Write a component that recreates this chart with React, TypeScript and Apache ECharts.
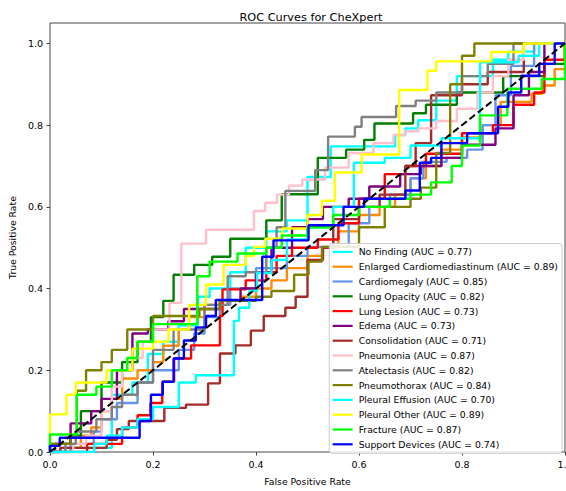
import React, { useEffect, useRef } from "react";
import * as echarts from "echarts";

const xTicks = [0, 0.2, 0.4, 0.6, 0.8, 1.0];
const yTicks = [0, 0.2, 0.4, 0.6, 0.8, 1.0];

const labels = [
  "No Finding",
  "Enlarged Cardiomediastinum",
  "Cardiomegaly",
  "Lung Opacity",
  "Lung Lesion",
  "Edema",
  "Consolidation",
  "Pneumonia",
  "Atelectasis",
  "Pneumothorax",
  "Pleural Effusion",
  "Pleural Other",
  "Fracture",
  "Support Devices",
];
const aucs = [0.77, 0.89, 0.85, 0.82, 0.73, 0.73, 0.71, 0.87, 0.82, 0.84, 0.7, 0.89, 0.87, 0.74];
const colors = [
  "#00ffff", "#ff8c00", "#6495ed", "#008000", "#ff0000", "#800080", "#a52a2a",
  "#ffc0cb", "#808080", "#808000", "#00ffff", "#ffff00", "#00ff00", "#0000ff",
];

// each point: [fpr at which the curve jumps, tpr after the jump]
const noFinding = [[0,0],[0.03,0.01],[0.12,0.14],[0.16,0.17],[0.19,0.24],[0.22,0.27],[0.25,0.31],[0.287,0.38],[0.31,0.4],[0.35,0.44],[0.38,0.5],[0.42,0.54],[0.46,0.567],[0.5,0.673],[0.545,0.748],[0.67,0.776],[0.69,0.792],[0.715,0.812],[0.75,0.86],[0.79,0.92],[0.86,0.96],[0.89,0.98],[0.94,1],[1,1]];
const enlargedCardiomediastinum = [[0,0],[0.02,0.01],[0.06,0.04],[0.08,0.06],[0.1,0.1],[0.12,0.13],[0.14,0.18],[0.17,0.2],[0.2,0.22],[0.22,0.26],[0.25,0.3],[0.27,0.33],[0.3,0.36],[0.33,0.37],[0.37,0.38],[0.4,0.4],[0.43,0.42],[0.46,0.45],[0.5,0.48],[0.53,0.5],[0.56,0.54],[0.6,0.58],[0.64,0.6],[0.67,0.63],[0.7,0.67],[0.73,0.7],[0.76,0.74],[0.8,0.77],[0.84,0.8],[0.875,0.857],[0.935,0.877],[0.955,0.897],[0.98,0.937],[1,1]];
const cardiomegaly = [[0,0],[0.04,0.02],[0.085,0.05],[0.1,0.08],[0.13,0.12],[0.17,0.17],[0.2,0.2],[0.25,0.25],[0.28,0.29],[0.3,0.33],[0.33,0.36],[0.35,0.4],[0.4,0.45],[0.46,0.48],[0.5,0.502],[0.58,0.56],[0.62,0.6],[0.66,0.63],[0.7,0.67],[0.725,0.71],[0.77,0.72],[0.81,0.74],[0.84,0.8],[0.865,0.873],[0.895,0.945],[0.94,1],[1,1]];
const lungOpacity = [[0,0],[0,0.02],[0.04,0.04],[0.06,0.1],[0.1,0.17],[0.14,0.22],[0.17,0.27],[0.196,0.33],[0.22,0.37],[0.24,0.434],[0.28,0.458],[0.315,0.478],[0.35,0.522],[0.42,0.567],[0.45,0.631],[0.52,0.72],[0.575,0.74],[0.61,0.764],[0.63,0.804],[0.705,0.829],[0.73,0.85],[0.79,0.88],[0.88,0.92],[0.96,0.95],[1,1]];
const lungLesion = [[0,0],[0.072,0.02],[0.14,0.06],[0.17,0.09],[0.195,0.12],[0.218,0.172],[0.241,0.229],[0.274,0.261],[0.33,0.333],[0.335,0.398],[0.38,0.42],[0.42,0.44],[0.44,0.48],[0.47,0.5],[0.52,0.52],[0.56,0.56],[0.6,0.62],[0.65,0.68],[0.69,0.7],[0.73,0.73],[0.8,0.78],[0.86,0.8],[0.9,0.85],[0.94,0.88],[0.96,0.96],[1,1]];
const edema = [[0,0],[0.01,0.02],[0.04,0.07],[0.08,0.1],[0.1,0.13],[0.13,0.2],[0.16,0.29],[0.19,0.3],[0.23,0.32],[0.26,0.35],[0.33,0.37],[0.37,0.4],[0.4,0.44],[0.43,0.5],[0.47,0.55],[0.5,0.57],[0.53,0.6],[0.58,0.62],[0.62,0.65],[0.68,0.68],[0.72,0.7],[0.76,0.72],[0.8,0.752],[0.865,0.792],[0.9,0.873],[0.93,0.93],[0.96,1],[1,1]];
const consolidation = [[0,0],[0.02,0.01],[0.11,0.03],[0.13,0.056],[0.153,0.076],[0.222,0.108],[0.264,0.116],[0.307,0.168],[0.33,0.241],[0.36,0.261],[0.39,0.297],[0.415,0.333],[0.457,0.353],[0.477,0.38],[0.5,0.47],[0.53,0.5],[0.55,0.57],[0.6,0.6],[0.64,0.63],[0.69,0.7],[0.71,0.756],[0.74,0.873],[0.8,0.9],[0.85,0.93],[0.92,1],[1,1]];
const pneumonia = [[0,0],[0.045,0.02],[0.07,0.04],[0.1,0.1],[0.12,0.16],[0.14,0.2],[0.15,0.23],[0.18,0.27],[0.2,0.3],[0.232,0.365],[0.255,0.51],[0.303,0.544],[0.396,0.59],[0.418,0.61],[0.441,0.63],[0.464,0.652],[0.49,0.667],[0.534,0.696],[0.58,0.732],[0.628,0.756],[0.667,0.776],[0.689,0.785],[0.715,0.792],[0.75,0.81],[0.79,0.84],[0.83,0.88],[0.86,0.92],[0.89,0.96],[0.92,1],[1,1]];
const atelectasis = [[0,0],[0.03,0.02],[0.05,0.05],[0.09,0.08],[0.12,0.11],[0.14,0.14],[0.17,0.17],[0.2,0.25],[0.24,0.3],[0.3,0.36],[0.345,0.43],[0.38,0.44],[0.42,0.5],[0.44,0.55],[0.457,0.639],[0.515,0.69],[0.54,0.772],[0.592,0.796],[0.605,0.82],[0.672,0.847],[0.71,0.86],[0.75,0.88],[0.8,0.92],[0.85,0.95],[0.9,1],[1,1]];
const pneumothorax = [[0,0],[0,0.02],[0.04,0.04],[0.052,0.15],[0.07,0.2],[0.1,0.22],[0.12,0.25],[0.15,0.3],[0.2,0.333],[0.29,0.35],[0.33,0.37],[0.4,0.38],[0.43,0.394],[0.474,0.434],[0.502,0.466],[0.528,0.502],[0.6,0.55],[0.65,0.6],[0.7,0.62],[0.72,0.647],[0.75,0.732],[0.777,0.9],[0.8,0.97],[0.824,1],[1,1]];
const pleuralEffusion = [[0,0],[0.086,0.02],[0.11,0.04],[0.14,0.06],[0.17,0.08],[0.2,0.11],[0.25,0.17],[0.283,0.188],[0.357,0.321],[0.367,0.353],[0.387,0.394],[0.402,0.438],[0.43,0.47],[0.46,0.52],[0.5,0.55],[0.55,0.6],[0.59,0.708],[0.65,0.72],[0.7,0.75],[0.76,0.768],[0.835,0.954],[0.91,0.97],[0.95,1],[1,1]];
const pleuralOther = [[0,0],[0,0.092],[0.032,0.14],[0.05,0.17],[0.11,0.2],[0.16,0.253],[0.2,0.27],[0.23,0.3],[0.27,0.36],[0.303,0.41],[0.337,0.458],[0.38,0.48],[0.396,0.502],[0.418,0.522],[0.451,0.547],[0.5,0.58],[0.528,0.615],[0.553,0.684],[0.605,0.728],[0.678,0.886],[0.733,0.933],[0.75,0.956],[0.857,0.979],[0.92,1],[1,1]];
const fracture = [[0,0],[0,0.043],[0.052,0.14],[0.09,0.16],[0.12,0.2],[0.15,0.23],[0.17,0.27],[0.2,0.313],[0.286,0.43],[0.31,0.466],[0.364,0.486],[0.42,0.5],[0.45,0.53],[0.5,0.55],[0.55,0.58],[0.6,0.6],[0.66,0.62],[0.7,0.63],[0.74,0.66],[0.78,0.7],[0.8,0.75],[0.835,0.824],[0.888,0.889],[0.955,0.913],[1,1]];
const supportDevices = [[0,0],[0,0.015],[0.019,0.035],[0.174,0.076],[0.196,0.14],[0.219,0.172],[0.24,0.229],[0.26,0.273],[0.283,0.305],[0.303,0.333],[0.322,0.372],[0.412,0.478],[0.434,0.518],[0.502,0.555],[0.57,0.6],[0.61,0.62],[0.69,0.64],[0.718,0.708],[0.74,0.72],[0.76,0.756],[0.81,0.78],[0.87,0.845],[0.89,0.88],[0.915,0.921],[0.95,0.95],[0.98,1],[1,1]];

const curves = [
  noFinding, enlargedCardiomediastinum, cardiomegaly, lungOpacity, lungLesion, edema,
  consolidation, pneumonia, atelectasis, pneumothorax, pleuralEffusion, pleuralOther,
  fracture, supportDevices,
];
const diagonal = [[0, 0], [1, 1]];

const FONT = "DejaVu Sans";

export default function App() {
  const ref = useRef<HTMLDivElement>(null);
  useEffect(() => {
    if (!ref.current) return;
    const chart = echarts.init(ref.current, null, { renderer: "svg" });
    const names = labels.map((l, i) => `${l} (AUC = ${aucs[i].toFixed(2)})`);
    const series: any[] = curves.map((data, i) => ({
      name: names[i],
      type: "line",
      step: "end",
      data,
      color: colors[i],
      symbol: "none",
      showSymbol: false,
      lineStyle: { color: colors[i], width: 2.4 },
      z: 2,
    }));
    series.push({
      name: "chance",
      type: "line",
      data: diagonal,
      symbol: "none",
      showSymbol: false,
      lineStyle: { color: "#000", width: 2, type: [7, 3.5] },
      z: 3,
    });
    chart.setOption({
      animation: false,
      textStyle: { fontFamily: FONT },
      title: {
        text: "ROC Curves for CheXpert",
        left: 306,
        textAlign: "center",
        top: 7,
        textStyle: { fontFamily: FONT, fontSize: 11.3, fontWeight: "normal", color: "#000" },
      },
      grid: {
        left: 47,
        right: 13,
        top: 23,
        bottom: 33,
        show: true,
        borderColor: "#444",
        borderWidth: 1,
        backgroundColor: "#fff",
      },
      legend: {
        data: names,
        orient: "vertical",
        right: 16,
        bottom: 37.7,
        icon: "rect",
        itemWidth: 20,
        itemHeight: 2.2,
        itemGap: 3.8,
        selectedMode: false,
        backgroundColor: "rgba(255,255,255,0.85)",
        borderColor: "#ccc",
        borderWidth: 1,
        borderRadius: 3,
        padding: [2.9, 4, 3.5, 3.4],
        textStyle: { fontFamily: FONT, fontSize: 9.3, color: "#000", lineHeight: 11, padding: [0, 0, 0, 1] },
      },
      xAxis: {
        type: "value",
        min: 0,
        max: 1,
        interval: 0.2,
        name: "False Positive Rate",
        nameLocation: "middle",
        nameGap: 25,
        nameTextStyle: { fontFamily: FONT, fontSize: 9.3, color: "#000" },
        axisLine: { show: false },
        splitLine: { show: false },
        axisTick: { show: true, inside: false, length: 3.5, lineStyle: { color: "#444" }, customValues: xTicks },
        axisLabel: {
          margin: 7,
          fontFamily: FONT,
          fontSize: 9.5,
          color: "#000",
          customValues: xTicks,
          formatter: (v: number) => v.toFixed(1),
        },
      },
      yAxis: {
        type: "value",
        min: 0,
        max: 1.05,
        interval: 0.2,
        name: "True Positive Rate",
        nameLocation: "middle",
        nameRotate: 90,
        nameGap: 26,
        nameTextStyle: { fontFamily: FONT, fontSize: 9.3, color: "#000" },
        axisLine: { show: false },
        splitLine: { show: false },
        axisTick: { show: true, inside: false, length: 3.5, lineStyle: { color: "#444" }, customValues: yTicks },
        axisLabel: {
          margin: 7,
          fontFamily: FONT,
          fontSize: 9.5,
          color: "#000",
          customValues: yTicks,
          formatter: (v: number) => v.toFixed(1),
        },
      },
      series,
    });
    return () => chart.dispose();
  }, []);
  return (
    <div
      ref={ref}
      style={{ position: "fixed", left: 0, top: 0, width: 578, height: 491, background: "#fff" }}
    />
  );
}
